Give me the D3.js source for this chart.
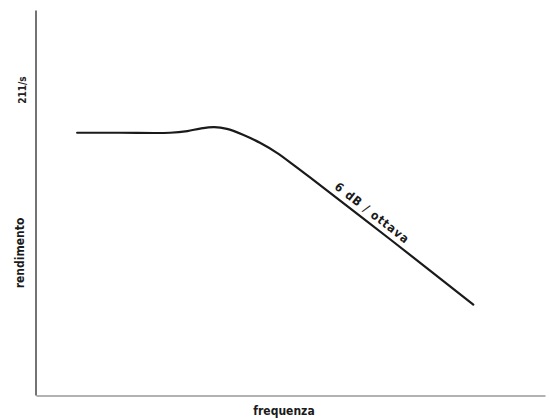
<!DOCTYPE html>
<html>
<head>
<meta charset="utf-8">
<script src="https://cdn.jsdelivr.net/npm/d3@7"></script>
<style>
  body { margin: 0; background: #fff; }
  text { font-family: "DejaVu Sans", sans-serif; font-stretch: condensed; }
</style>
</head>
<body>
<script>
// dati: frequenza in ottave, rendimento in dB
var ottave = [0.97, 1.98, 3.16, 3.57, 3.87, 4.2, 4.5, 4.88, 5.28, 5.68, 6.06, 6.46, 8.4, 10.31];
var rendimento = [0, 0, 0, 0.3, 0.75, 1.0, 0.7, -0.35, -1.8, -3.6, -5.7, -8.0, -19.4, -30.8];
var etichettaPendenza = "6 dB / ottava";
var posEtichetta = 7.78; // ottava al centro dell'etichetta

var datos = ottave.map(function(o, i) { return { x: o, y: rendimento[i] }; });

var width = 550, height = 419;

var svg = d3.select("body")
  .append("svg")
  .attr("width", width)
  .attr("height", height);

// scale
var x = d3.scaleLinear().domain([0, 12]).range([36, 545]);
var y = d3.scaleLinear().domain([-47, 22]).range([395, 10]);

// assi senza tacche
svg.append("g")
  .attr("transform", "translate(0,395.5)")
  .call(d3.axisBottom(x).tickValues([]).tickSizeOuter(0))
  .select(".domain")
  .attr("stroke", "#666")
  .attr("stroke-width", 1.2);

svg.append("g")
  .attr("transform", "translate(35.5,0)")
  .call(d3.axisLeft(y).tickValues([]).tickSizeOuter(0))
  .select(".domain")
  .attr("stroke", "#444")
  .attr("stroke-width", 1.5);

// curva di risposta
svg.append("path")
  .datum(datos)
  .attr("fill", "none")
  .attr("stroke", "#1a1a1a")
  .attr("stroke-width", 2.2)
  .attr("stroke-linecap", "round")
  .attr("d", d3.line()
    .curve(d3.curveCatmullRom.alpha(0.5))
    .x(function(d) { return x(d.x); })
    .y(function(d) { return y(d.y); }));

// etichetta lungo la pendenza
var n = datos.length;
var p0 = datos[n - 3], p1 = datos[n - 1];
var t = (posEtichetta - p0.x) / (p1.x - p0.x);
var ly = p0.y + t * (p1.y - p0.y);
var ang = Math.atan2(y(p1.y) - y(p0.y), x(p1.x) - x(p0.x)) * 180 / Math.PI;

svg.append("text")
  .attr("transform", "translate(" + x(posEtichetta) + "," + y(ly) + ") rotate(" + ang + ")")
  .attr("text-anchor", "middle")
  .attr("y", -6)
  .style("font-size", "12px")
  .style("font-weight", "600")
  .style("letter-spacing", "1px")
  .style("fill", "#1a1a1a")
  .text(etichettaPendenza);

// titoli degli assi
svg.append("text")
  .attr("transform", "translate(26,90) rotate(-90)")
  .attr("text-anchor", "middle")
  .style("font-size", "10px")
  .style("font-weight", "bold")
  .style("fill", "#222")
  .text("211/s");

svg.append("text")
  .attr("transform", "translate(24,253) rotate(-90)")
  .attr("text-anchor", "middle")
  .style("font-size", "12px")
  .style("font-weight", "bold")
  .style("fill", "#1a1a1a")
  .text("rendimento");

svg.append("text")
  .attr("x", 284)
  .attr("y", 415)
  .attr("text-anchor", "middle")
  .style("font-size", "12px")
  .style("font-weight", "bold")
  .style("fill", "#1a1a1a")
  .text("frequenza");
</script>
</body>
</html>
